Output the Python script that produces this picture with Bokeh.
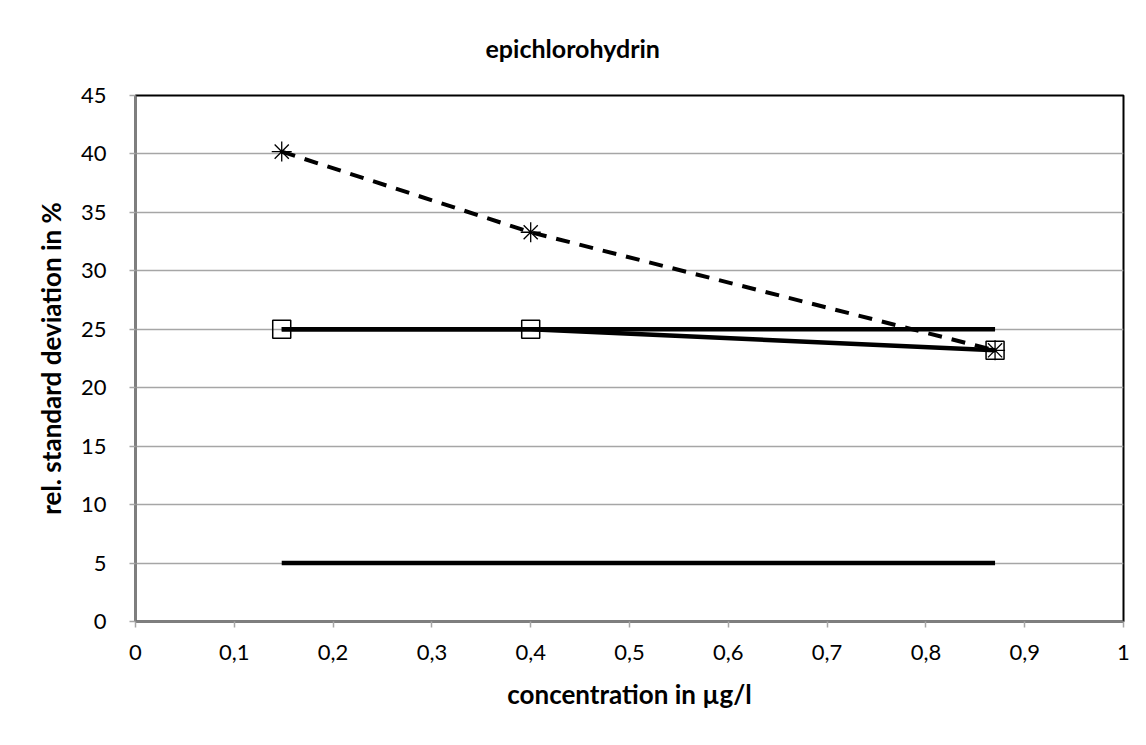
from bokeh.plotting import figure
from bokeh.models import FixedTicker, Range1d
from bokeh.embed import file_html
from bokeh.resources import INLINE

# data
conc = [0.148, 0.4, 0.87]
rsd_dashed = [40.2, 33.3, 23.2]
rsd_square = [25.0, 25.0, 23.2]
limit_x = [0.148, 0.87]
limit_upper = [25.0, 25.0]
limit_lower = [5.0, 5.0]

x_ticks = [0, 0.1, 0.2, 0.3, 0.4, 0.5, 0.6, 0.7, 0.8, 0.9, 1]
x_tick_labels = ["0", "0,1", "0,2", "0,3", "0,4", "0,5", "0,6", "0,7", "0,8", "0,9", "1"]
y_ticks = [0, 5, 10, 15, 20, 25, 30, 35, 40, 45]

FONT = "Lato"

p = figure(width=1138, height=737, output_backend="svg", toolbar_location=None,
           x_range=Range1d(0, 1), y_range=Range1d(0, 45),
           min_border_left=135, min_border_right=15, min_border_top=95, min_border_bottom=116)

p.title.text = "epichlorohydrin"
p.title.align = "left"
p.title.vertical_align = "top"
p.title.offset = 350
p.title.text_font = FONT
p.title.text_font_size = "25px"
p.title.text_font_style = "bold"
p.title.text_color = "black"
p.title.standoff = 62

p.outline_line_color = "black"
p.outline_line_width = 2
p.background_fill_color = "white"
p.border_fill_color = "white"

p.xgrid.grid_line_color = None
p.ygrid.grid_line_color = "#a6a6a6"
p.ygrid.grid_line_width = 1.3

p.xaxis.ticker = FixedTicker(ticks=x_ticks)
p.xaxis.major_label_overrides = {t: l for t, l in zip(x_ticks, x_tick_labels)}
p.yaxis.ticker = FixedTicker(ticks=y_ticks)

for ax in (p.xaxis, p.yaxis):
    ax.axis_line_color = "#7f7f7f"
    ax.axis_line_width = 2
    ax.major_tick_line_color = "#a6a6a6"
    ax.major_tick_line_width = 1.5
    ax.major_tick_out = 6
    ax.major_tick_in = 0
    ax.minor_tick_line_color = None
    ax.major_label_text_font = FONT
    ax.major_label_text_font_size = "22px"
    ax.major_label_text_color = "black"
    ax.axis_label_text_font = FONT
    ax.axis_label_text_font_size = "26px"
    ax.axis_label_text_font_style = "bold"
    ax.axis_label_text_color = "black"

p.xaxis.axis_label = "concentration in µg/l"
p.yaxis.axis_label = "rel. standard deviation in %"
p.yaxis.major_label_standoff = 23
p.xaxis.major_label_standoff = 17
p.yaxis.axis_label_standoff = 11
p.xaxis.axis_label_standoff = 15

# lines
p.line(limit_x, limit_lower, line_color="black", line_width=4.5)
p.line(limit_x, limit_upper, line_color="black", line_width=4.5)
p.line(conc, rsd_square, line_color="black", line_width=4.5)
p.line(conc, rsd_dashed, line_color="black", line_width=4, line_dash="14 10")

# markers
p.scatter(conc, rsd_square, marker="square", size=18, fill_alpha=0,
          line_color="black", line_width=1.5)
p.scatter(conc, rsd_dashed, marker="asterisk", size=20,
          line_color="black", line_width=1.3)

open("out.html", "w").write(file_html(p, INLINE))
